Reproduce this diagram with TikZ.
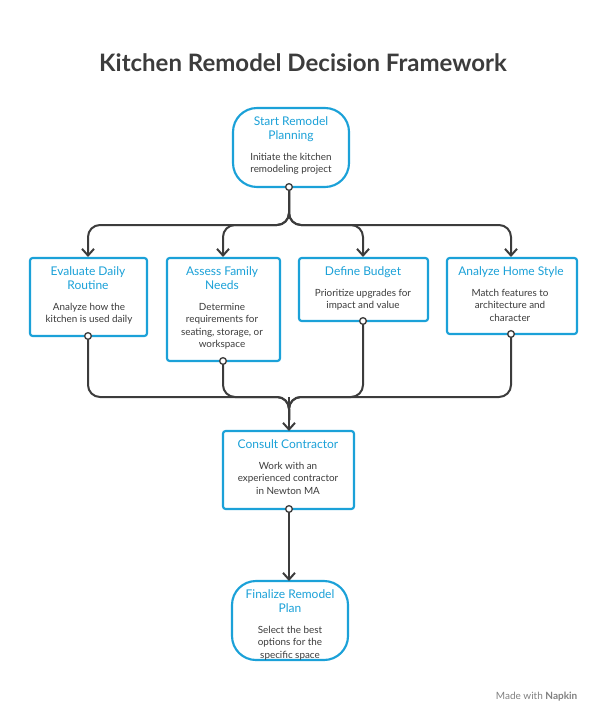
\documentclass[tikz,border=0pt]{standalone}
\usepackage{fontspec}
\setmainfont{Lato}
\usetikzlibrary{arrows.meta}
\definecolor{napblue}{HTML}{1BA1D8}
\definecolor{napgray}{HTML}{3C3C3C}
\tikzset{
	box/.style={draw=napblue,line width=1.6pt,fill=white,rounded corners=2pt},
	capsule/.style={box,rounded corners=18pt},
	head/.style={text=napblue,align=center,inner sep=0pt,font=\fontsize{9}{11}\selectfont},
	body/.style={text=napgray,align=center,inner sep=0pt,font=\fontsize{7.4}{9.3}\selectfont},
	link/.style={draw=napgray,line width=1.5pt,rounded corners=9pt,-{Straight Barb[length=5pt,width=9pt]}},
	plain/.style={draw=napgray,line width=1.5pt,rounded corners=9pt},
	dot/.style={circle,draw=napgray,fill=white,line width=1pt,inner sep=0pt,minimum size=5pt}
}
\begin{document}
\begin{tikzpicture}[x=0.75pt,y=-0.75pt]
	\useasboundingbox (0,0) rectangle (606,727);
	\node[text=napgray,font=\bfseries\fontsize{18}{20}\selectfont] (title) at (303,63) {Kitchen Remodel Decision Framework};
	% boxes
	\draw[capsule] (233,108) rectangle (349,187);
	\draw[box] (30,258) rectangle (147,336);
	\draw[box] (167,258) rectangle (280,361);
	\draw[box] (299,258) rectangle (428,321);
	\draw[box] (447,258) rectangle (577,334);
	\draw[box] (223,431) rectangle (354,509);
	\draw[capsule] (232,581) rectangle (348,660);
	% texts
	\node[head,anchor=north] (start) at (291,116) {Start Remodel\\Planning};
	\node[body,anchor=north] (startT) at (291,153) {Initiate the kitchen\\remodeling project};
	\node[head,anchor=north] (daily) at (88,266) {Evaluate Daily\\Routine};
	\node[body,anchor=north] (dailyT) at (89,303) {Analyze how the\\kitchen is used daily};
	\node[head,anchor=north] (family) at (222,266) {Assess Family\\Needs};
	\node[body,anchor=north] (familyT) at (222,303) {Determine\\requirements for\\seating, storage, or\\workspace};
	\node[head,anchor=north] (budget) at (363,266) {Define Budget};
	\node[body,anchor=north] (budgetT) at (363,289) {Prioritize upgrades for\\impact and value};
	\node[head,anchor=north] (style) at (511,266) {Analyze Home Style};
	\node[body,anchor=north] (styleT) at (510,289) {Match features to\\architecture and\\character};
	\node[head,anchor=north] (consult) at (288,439) {Consult Contractor};
	\node[body,anchor=north] (consultT) at (288,462) {Work with an\\experienced contractor\\in Newton MA};
	\node[head,anchor=north] (final) at (290,589) {Finalize Remodel\\Plan};
	\node[body,anchor=north] (finalT) at (290,626) {Select the best\\options for the\\specific space};
	% connectors
	\coordinate (s0) at (289,187);
	\coordinate (d0) at (88,336);
	\coordinate (f0) at (223,361);
	\coordinate (b0) at (363,321);
	\coordinate (h0) at (511,334);
	\coordinate (c1) at (289,431);
	\coordinate (c0) at (289,509);
	\coordinate (e1) at (289,581);
	\foreach \x in {88,223,363,511}
		\draw[link] (s0) -- (289,225) |- (\x,225) -- (\x,257);
	\foreach \p in {d0,f0,b0,h0}
		\draw[plain] (\p) |- (289,397) -- (289,420);
	\draw[link] (289,397) -- (c1);
	\draw[link] (c0) -- (e1);
	\foreach \p in {s0,d0,f0,b0,h0,c0}
		\node[dot] at (\p) {};
	\node[text=gray,font=\fontsize{7.5}{9}\selectfont,anchor=east] (made) at (582,697) {Made with \textbf{Napkin}};
\end{tikzpicture}
\end{document}
